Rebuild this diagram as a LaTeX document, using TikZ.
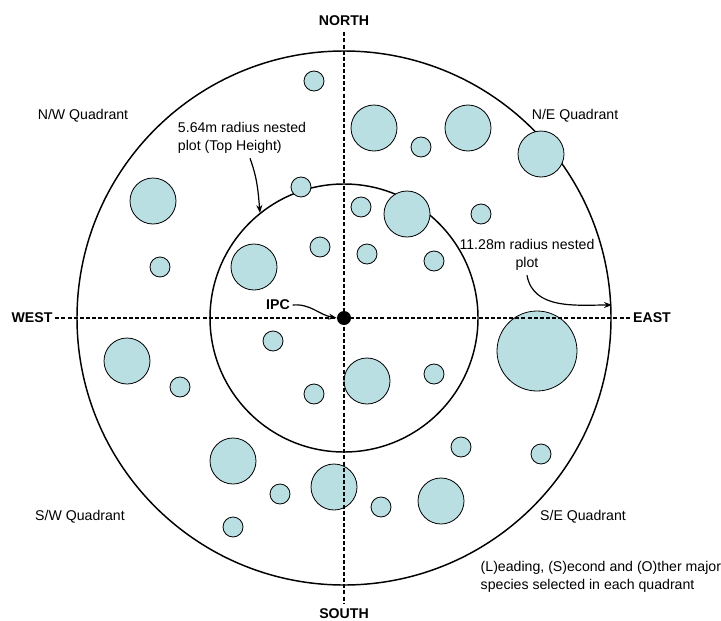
\documentclass[tikz,border=0pt]{standalone}
\usepackage{fontspec}
\setmainfont{Liberation Sans}
\usetikzlibrary{arrows.meta}
\definecolor{treecol}{RGB}{185,223,227}

\begin{document}
\begin{tikzpicture}[x=0.75pt, y=-0.75pt,
    font=\fontsize{10.6pt}{13.5pt}\selectfont,
    plotline/.style={circle, draw, line width=1.1pt, inner sep=0pt},
    tree/.style={circle, draw, fill=treecol, line width=0.6pt, inner sep=0pt},
    smalltree/.style={tree, minimum size=15pt},
    bigtree/.style={tree, minimum size=34.5pt},
    compass/.style={font=\fontsize{10.6pt}{13.5pt}\selectfont\bfseries, inner sep=2pt},
    axis/.style={dashed, dash pattern=on 3pt off 1.6pt, line width=0.9pt},
    pointer/.style={-{Stealth[length=6pt, width=4.5pt]}, line width=0.9pt}]

\useasboundingbox (0,0) rectangle (721,621);

% Plot boundaries
\node[plotline, minimum size=400.5pt] (outer) at (344,318) {};
\node[plotline, minimum size=201pt]   (inner) at (344,318) {};

% ================================================================
% N/W QUADRANT
% ================================================================
\node[smalltree] (nw1) at (314, 81) {};
\node[bigtree]   (nw2) at (153,201) {};
\node[smalltree] (nw3) at (301,187) {};
\node[smalltree] (nw4) at (160,267) {};
\node[bigtree]   (nw5) at (254,267) {};
\node[smalltree] (nw6) at (320,247) {};

% ================================================================
% N/E QUADRANT
% ================================================================
\node[bigtree]   (ne1) at (374,128) {};
\node[smalltree] (ne2) at (421,147) {};
\node[bigtree]   (ne3) at (468,128) {};
\node[bigtree]   (ne4) at (541,154) {};
\node[smalltree] (ne5) at (361,207) {};
\node[bigtree]   (ne6) at (407,214) {};
\node[smalltree] (ne7) at (481,214) {};
\node[smalltree] (ne8) at (367,254) {};
\node[smalltree] (ne9) at (434,261) {};

% ================================================================
% S/W QUADRANT
% ================================================================
\node[bigtree]   (sw1) at (127,361) {};
\node[smalltree] (sw2) at (180,387) {};
\node[smalltree] (sw3) at (273,341) {};
\node[smalltree] (sw4) at (314,394) {};
\node[bigtree]   (sw5) at (233,461) {};
\node[smalltree] (sw6) at (280,494) {};
\node[smalltree] (sw7) at (233,527) {};
\node[bigtree]   (sw8) at (334,487) {};

% ================================================================
% S/E QUADRANT
% ================================================================
\node[bigtree]   (se1) at (367,381) {};
\node[smalltree] (se2) at (434,374) {};
\node[tree, minimum size=60pt] (se3) at (537,351) {};
\node[smalltree] (se4) at (461,447) {};
\node[smalltree] (se5) at (541,454) {};
\node[bigtree]   (se6) at (441,501) {};
\node[smalltree] (se7) at (381,507) {};

% Compass axes
\node[compass] (north) at (344, 21) {NORTH};
\node[compass] (south) at (344,614) {SOUTH};
\node[compass] (west)  at ( 32,318) {WEST};
\node[compass] (east)  at (652,318) {EAST};
\draw[axis] (west) -- (east);
\draw[axis, shorten <=2.5pt, shorten >=2.5pt] (north) -- (south);

% Plot centre
\node[circle, fill, minimum size=10.5pt, inner sep=0pt] (centre) at (344,318) {};
\node[compass] (ipc) at (278,305) {IPC};
\draw[pointer] (ipc.east) to[out=5, in=170] (centre.west);

% Quadrant labels
\node (nwlabel) at ( 83,116) {N/W Quadrant};
\node (nelabel) at (575,116) {N/E Quadrant};
\node (swlabel) at ( 80,517) {S/W Quadrant};
\node (selabel) at (583,517) {S/E Quadrant};

% Radius notes
\node[align=left] (innernote) at (242,138) {5.64m radius nested\\plot (Top Height)};
\coordinate (innertip) at (260,213);
\draw[pointer] ([xshift=6pt]innernote.south) to[out=-70, in=95] (innertip);

\node[align=center] (outernote) at (527,255) {11.28m radius nested\\plot};
\coordinate (outertip) at (612,305);
\draw[pointer] (outernote.south) to[out=-80, in=180] (outertip);

% Legend
\node[align=left, anchor=west] (legend) at (476,577)
    {(L)eading, (S)econd and (O)ther major\\species selected in each quadrant};

\end{tikzpicture}
\end{document}
